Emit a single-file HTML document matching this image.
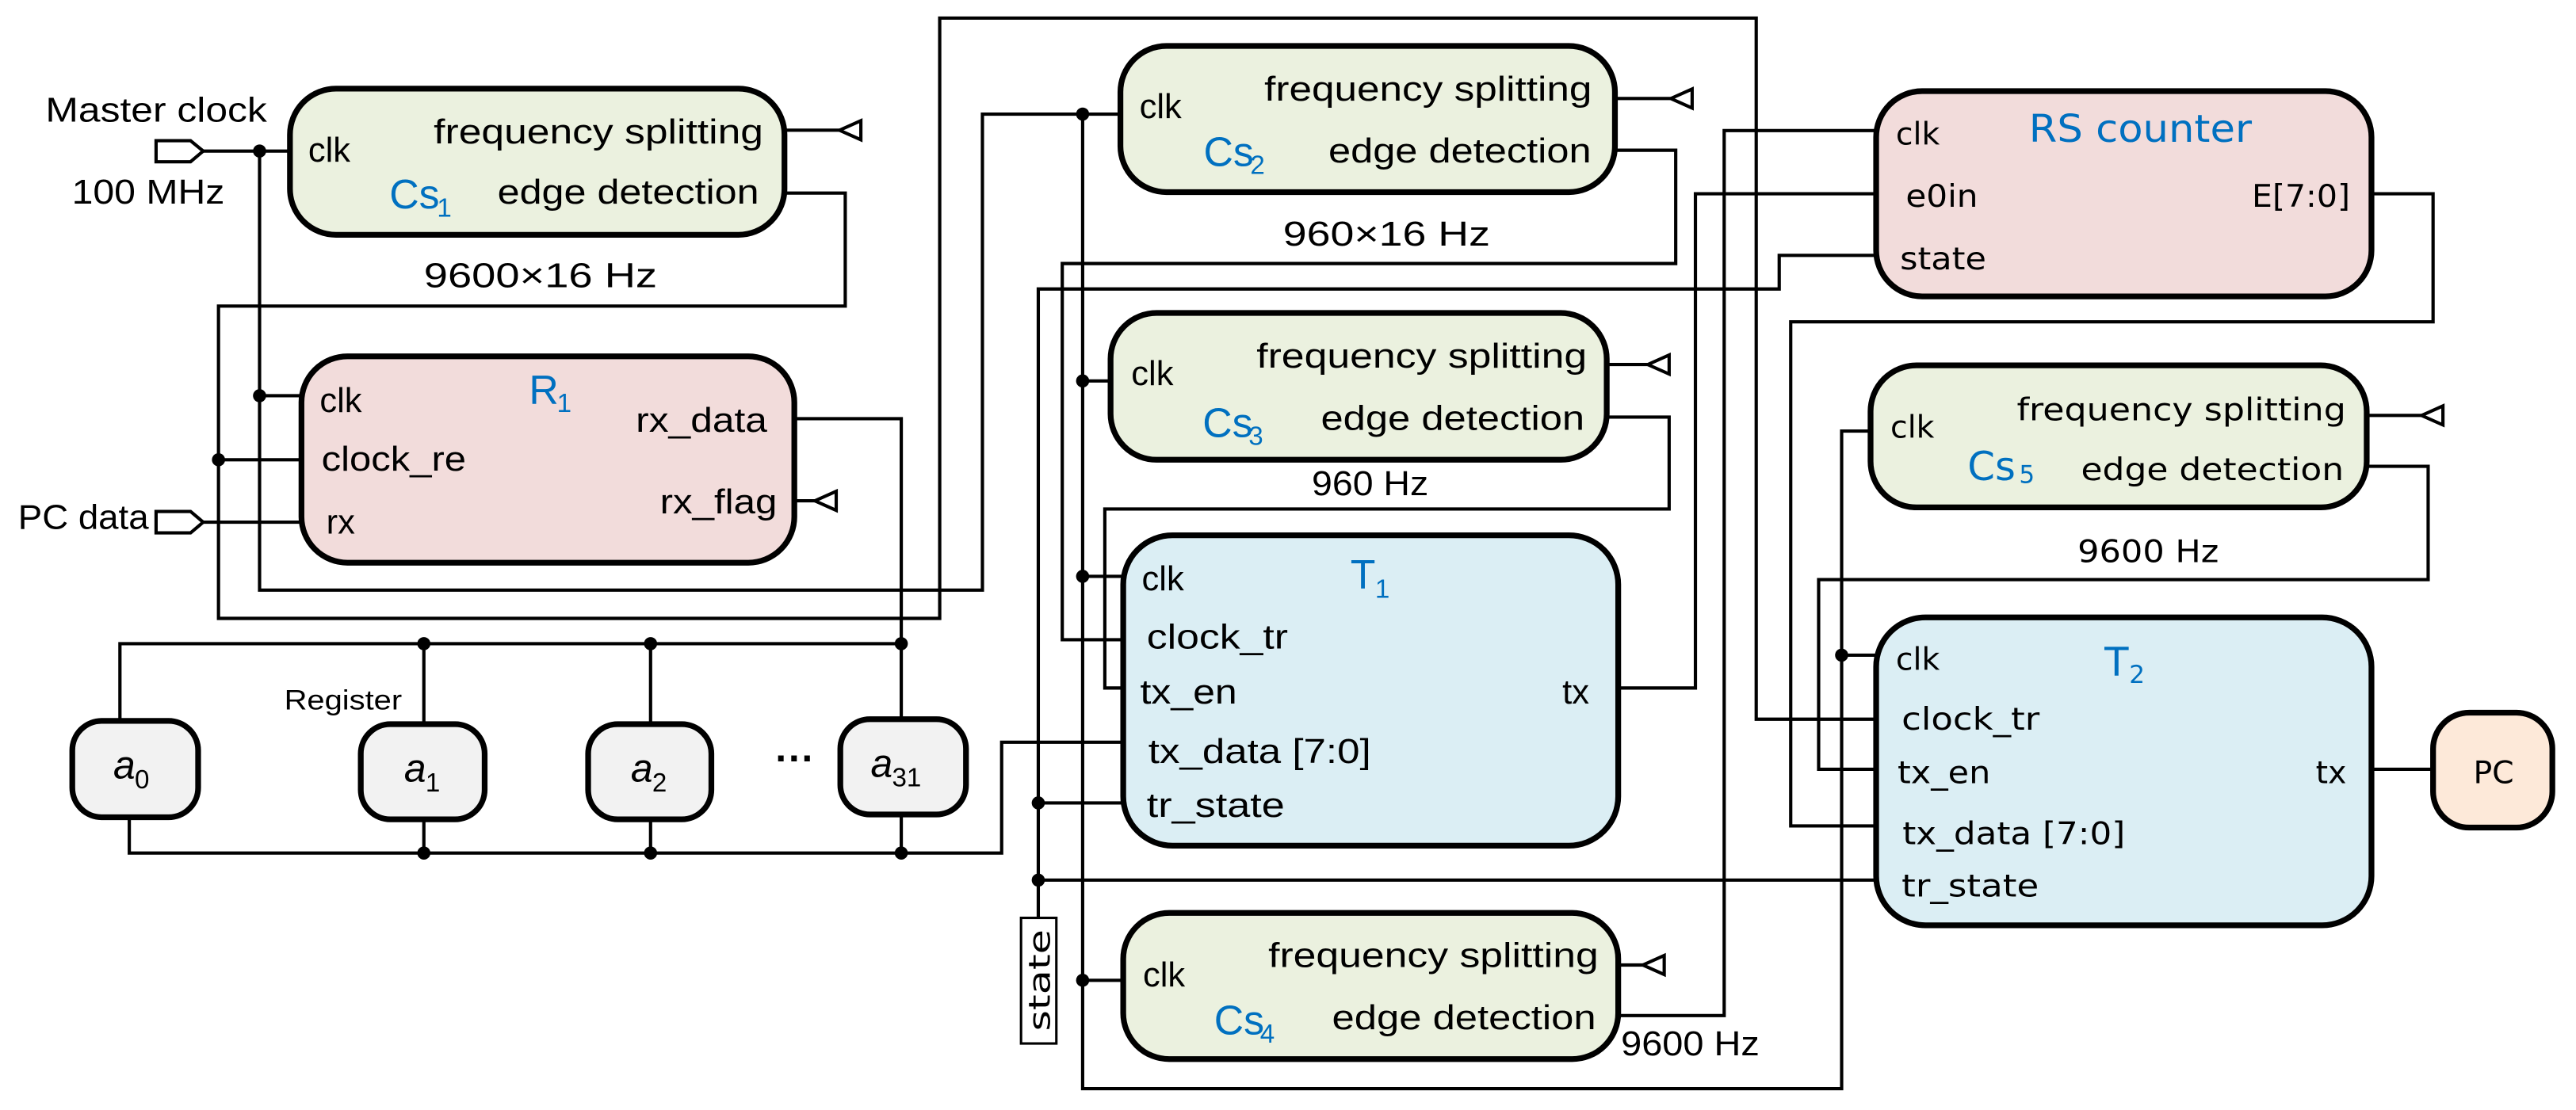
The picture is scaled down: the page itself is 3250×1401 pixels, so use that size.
<!DOCTYPE html>
<html><head><meta charset="utf-8"><style>
html,body{margin:0;padding:0;background:#fff;}
svg{display:block;}
text{font-family:"Liberation Sans",sans-serif;fill:#000;}
.d{font-family:"DejaVu Sans",sans-serif;}
.b{fill:#0070c0;}
</style></head><body>
<svg width="3250" height="1401" viewBox="0 0 1568 676" preserveAspectRatio="none" xmlns="http://www.w3.org/2000/svg" font-size="21">
<rect width="1568" height="676" fill="#fff"/>
<g stroke="#000" stroke-width="3.5">
<rect x="176.5" y="54" width="301" height="89" rx="28" fill="#ebf1df"/>
<rect x="183.5" y="217" width="300" height="125.7" rx="28" fill="#f2dcdb"/>
<rect x="682" y="28" width="301" height="89" rx="28" fill="#ebf1df"/>
<rect x="676" y="190.6" width="302" height="89.4" rx="28" fill="#ebf1df"/>
<rect x="683.7" y="326" width="301.3" height="189" rx="30" fill="#dbeef4"/>
<rect x="683.7" y="556" width="301.3" height="89" rx="28" fill="#ebf1df"/>
<rect x="1142" y="55.5" width="301.5" height="125" rx="28" fill="#f2dcdb"/>
<rect x="1138.6" y="222.5" width="302" height="86.5" rx="28" fill="#ebf1df"/>
<rect x="1142" y="376" width="301.5" height="187.5" rx="30" fill="#dbeef4"/>
<rect x="1481" y="434" width="72.6" height="70" rx="22" fill="#fde9d9"/>
<rect x="44" y="439" width="76.6" height="58.7" rx="18" fill="#f2f2f2"/>
<rect x="219.6" y="441" width="75.4" height="58" rx="18" fill="#f2f2f2"/>
<rect x="358" y="441" width="75" height="58" rx="18" fill="#f2f2f2"/>
<rect x="511.5" y="438" width="76.5" height="58" rx="18" fill="#f2f2f2"/>
</g>
<g stroke="#000" stroke-width="2" fill="none">
<path d="M123.7 92 H176.5"/>
<path d="M158 92 V359.4 H598 V69.5 H682"/>
<path d="M477.4 117.6 H514.5 V186.4 H133 V376.6 H572 V11 H1069 V438 H1142"/>
<path d="M158 241 H183.5"/>
<path d="M133 280 H183.5"/>
<path d="M123.7 318 H183.5"/>
<path d="M483.7 255 H548.6 V438"/>
<path d="M73 439 V392 H548.6"/>
<path d="M258 392 V441 M396 392 V441"/>
<path d="M78.7 497.7 V519.5 H609.7 V452 H683.7"/>
<path d="M258 499 V519.5 M396 499 V519.5 M548.6 496 V519.5"/>
<path d="M659 69.5 V663 H1121 V262.5 H1138.6"/>
<path d="M659 232 H676 M659 351 H683.7 M659 597 H683.7 M1121 399 H1142"/>
<path d="M983 91.5 H1020 V160.5 H646.6 V389.6 H683.7"/>
<path d="M1142 155.5 H1083 V176 H632 V559"/>
<path d="M632 489 H683.7 M632 536 H1142"/>
<path d="M978 254 H1016 V310 H672.5 V419 H683.7"/>
<path d="M985 419 H1032 V118 H1142"/>
<path d="M985 618.5 H1049.5 V79.5 H1142"/>
<path d="M1443.5 118 H1481 V196 H1090 V503 H1142"/>
<path d="M1440.6 284 H1478 V353 H1107 V468.5 H1142"/>
<path d="M1443.5 468.5 H1481"/>
<path d="M477.4 79.3 H512 M483.7 305 H497 M983 60 H1018 M978 222 H1004 M985 587.7 H1001 M1440.6 253 H1475"/>
</g>
<g stroke="#000" stroke-width="2" fill="#fff">
<polygon points="511,79.3 524,73.5 524,85.1"/>
<polygon points="496,305 509,299.2 509,310.8"/>
<polygon points="1017,60 1030,54.2 1030,65.8"/>
<polygon points="1003,222 1016,216.2 1016,227.8"/>
<polygon points="1000,587.7 1013,581.9 1013,593.5"/>
<polygon points="1474,253 1487,247.2 1487,258.8"/>
<polygon points="95,85.7 116,85.7 123.7,92 116,98.5 95,98.5"/>
<polygon points="95,311.5 116,311.5 123.7,318 116,324.5 95,324.5"/>
<rect x="621.5" y="559" width="21.5" height="76.5" stroke-width="1.5"/>
</g>
<g fill="#000">
<circle cx="158" cy="92" r="4"/><circle cx="158" cy="241" r="4"/><circle cx="133" cy="280" r="4"/>
<circle cx="659" cy="69.5" r="4"/><circle cx="659" cy="232" r="4"/><circle cx="659" cy="351" r="4"/><circle cx="659" cy="597" r="4"/>
<circle cx="632" cy="489" r="4"/><circle cx="632" cy="536" r="4"/><circle cx="1121" cy="399" r="4"/>
<circle cx="258" cy="392" r="4"/><circle cx="396" cy="392" r="4"/><circle cx="548.6" cy="392" r="4"/>
<circle cx="258" cy="519.5" r="4"/><circle cx="396" cy="519.5" r="4"/><circle cx="548.6" cy="519.5" r="4"/>
</g>
<text x="27.7" y="74" textLength="134.8" lengthAdjust="spacingAndGlyphs">Master clock</text>
<text x="43.7" y="124" textLength="93" lengthAdjust="spacingAndGlyphs">100 MHz</text>
<text x="11" y="322" textLength="79.5" lengthAdjust="spacingAndGlyphs">PC data</text>
<text x="187.6" y="98.5">clk</text>
<text x="264" y="87.4" textLength="200.6" lengthAdjust="spacingAndGlyphs">frequency splitting</text>
<text x="237" y="127" class="b" style="font-size:25px">Cs</text><text x="266" y="132" class="b" style="font-size:16px">1</text>
<text x="302.8" y="124" textLength="159.2" lengthAdjust="spacingAndGlyphs">edge detection</text>
<text x="258" y="175" textLength="142" lengthAdjust="spacingAndGlyphs">9600×16 Hz</text>
<text x="194.6" y="251">clk</text>
<text x="195.7" y="286.7" textLength="88" lengthAdjust="spacingAndGlyphs">clock_re</text>
<text x="198.6" y="325">rx</text>
<text x="322" y="246" class="b" style="font-size:25px">R</text><text x="339" y="251" class="b" style="font-size:16px">1</text>
<text x="387" y="263" textLength="80" lengthAdjust="spacingAndGlyphs">rx_data</text>
<text x="401.7" y="312.6" textLength="71.3" lengthAdjust="spacingAndGlyphs">rx_flag</text>
<text x="173" y="432" style="font-size:17px" textLength="71.7" lengthAdjust="spacingAndGlyphs">Register</text>
<text x="69" y="474" font-style="italic" style="font-size:24px">a</text><text x="82" y="480" style="font-size:16px">0</text>
<text x="246" y="476" font-style="italic" style="font-size:24px">a</text><text x="259" y="482" style="font-size:16px">1</text>
<text x="384" y="476" font-style="italic" style="font-size:24px">a</text><text x="397" y="482" style="font-size:16px">2</text>
<text x="530" y="473" font-style="italic" style="font-size:24px">a</text><text x="543" y="479" style="font-size:16px">31</text>
<text x="472" y="470" style="font-size:24px;font-weight:bold">···</text>
<text x="693.6" y="72">clk</text>
<text x="769.6" y="61.4" textLength="199.4" lengthAdjust="spacingAndGlyphs">frequency splitting</text>
<text x="732.6" y="101" class="b" style="font-size:25px">Cs</text><text x="761" y="106" class="b" style="font-size:16px">2</text>
<text x="808.6" y="99" textLength="160" lengthAdjust="spacingAndGlyphs">edge detection</text>
<text x="781" y="149.7" textLength="126" lengthAdjust="spacingAndGlyphs">960×16 Hz</text>
<text x="688.6" y="234.4">clk</text>
<text x="764.8" y="224" textLength="201.2" lengthAdjust="spacingAndGlyphs">frequency splitting</text>
<text x="732" y="266" class="b" style="font-size:25px">Cs</text><text x="760" y="271" class="b" style="font-size:16px">3</text>
<text x="804" y="261.7" textLength="160.5" lengthAdjust="spacingAndGlyphs">edge detection</text>
<text x="798.5" y="301.5" textLength="71" lengthAdjust="spacingAndGlyphs">960 Hz</text>
<text x="695" y="359.5">clk</text>
<text x="822" y="358.5" class="b" style="font-size:25px">T</text><text x="837" y="364" class="b" style="font-size:16px">1</text>
<text x="698" y="395" textLength="86" lengthAdjust="spacingAndGlyphs">clock_tr</text>
<text x="694" y="428.5" textLength="59" lengthAdjust="spacingAndGlyphs">tx_en</text>
<text x="951" y="428.5">tx</text>
<text x="699" y="464.6" textLength="135.5" lengthAdjust="spacingAndGlyphs">tx_data [7:0]</text>
<text x="698" y="497.5" textLength="84" lengthAdjust="spacingAndGlyphs">tr_state</text>
<text x="695.7" y="600.7">clk</text>
<text x="772" y="589" textLength="201" lengthAdjust="spacingAndGlyphs">frequency splitting</text>
<text x="739" y="630" class="b" style="font-size:25px">Cs</text><text x="767" y="635" class="b" style="font-size:16px">4</text>
<text x="810.8" y="626.7" textLength="160.7" lengthAdjust="spacingAndGlyphs">edge detection</text>
<text x="986.7" y="642.6" textLength="84.3" lengthAdjust="spacingAndGlyphs">9600 Hz</text>
<text class="d" style="font-size:18px" transform="translate(639,597) rotate(-90)" text-anchor="middle" textLength="62" lengthAdjust="spacingAndGlyphs">state</text>
<text class="d" x="1154" y="88" style="font-size:19px">clk</text>
<text class="d b" x="1235" y="86.3" style="font-size:23px" textLength="135.7" lengthAdjust="spacingAndGlyphs">RS counter</text>
<text class="d" x="1160" y="126" style="font-size:19px" textLength="44" lengthAdjust="spacingAndGlyphs">e0in</text>
<text class="d" x="1370.7" y="126" style="font-size:19px" textLength="59.8" lengthAdjust="spacingAndGlyphs">E[7:0]</text>
<text class="d" x="1156.5" y="164" style="font-size:19px" textLength="52.5" lengthAdjust="spacingAndGlyphs">state</text>
<text class="d" x="1150.7" y="266.5" style="font-size:19px">clk</text>
<text class="d" x="1227.6" y="256" style="font-size:19px" textLength="200.4" lengthAdjust="spacingAndGlyphs">frequency splitting</text>
<text class="d b" x="1197.6" y="292.4" style="font-size:24px">Cs</text><text class="d b" x="1229" y="294" style="font-size:15px">5</text>
<text class="d" x="1266.7" y="292.4" style="font-size:19px" textLength="160" lengthAdjust="spacingAndGlyphs">edge detection</text>
<text class="d" x="1264.6" y="342.3" style="font-size:19px" textLength="86" lengthAdjust="spacingAndGlyphs">9600 Hz</text>
<text class="d" x="1154" y="408" style="font-size:19px">clk</text>
<text class="d b" x="1281" y="411.6" style="font-size:24px">T</text><text class="d b" x="1296" y="416" style="font-size:15px">2</text>
<text class="d" x="1157.5" y="444.5" style="font-size:19px" textLength="84" lengthAdjust="spacingAndGlyphs">clock_tr</text>
<text class="d" x="1155" y="477" style="font-size:19px" textLength="56.6" lengthAdjust="spacingAndGlyphs">tx_en</text>
<text class="d" x="1409.6" y="477" style="font-size:19px">tx</text>
<text class="d" x="1158" y="514" style="font-size:19px" textLength="135.6" lengthAdjust="spacingAndGlyphs">tx_data [7:0]</text>
<text class="d" x="1157.5" y="546" style="font-size:19px" textLength="83.5" lengthAdjust="spacingAndGlyphs">tr_state</text>
<text class="d" x="1505.5" y="477" style="font-size:19px">PC</text>
</svg>
</body></html>
